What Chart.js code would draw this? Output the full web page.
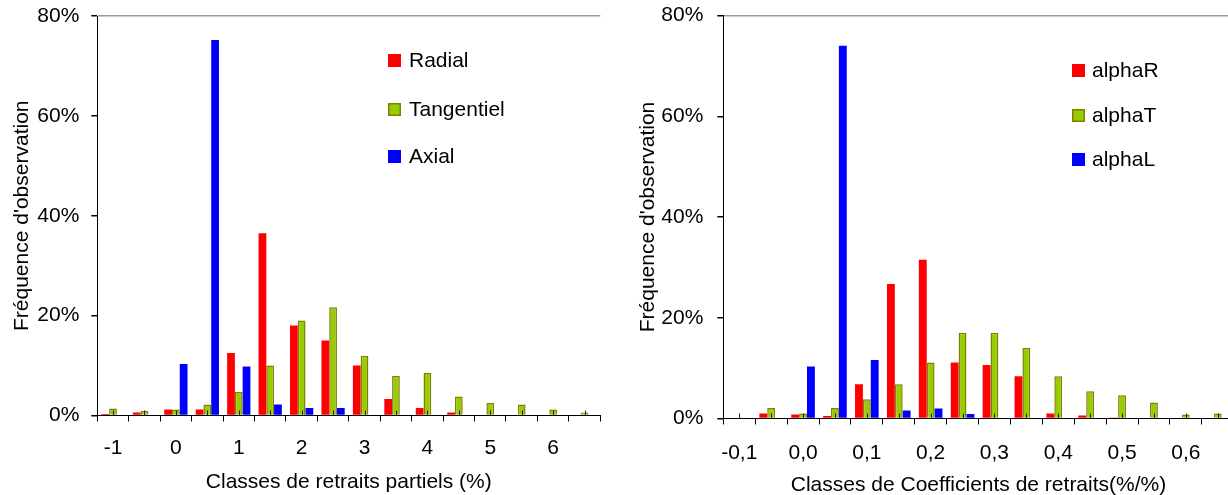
<!DOCTYPE html>
<html><head><meta charset="utf-8">
<script src="https://cdn.jsdelivr.net/npm/chart.js@4/dist/chart.umd.min.js"></script>
<style>
html,body{margin:0;padding:0;background:#fff;overflow:hidden;width:1228px;height:495px;position:relative;}
#w1{position:absolute;left:0;top:0;width:612px;height:495px;}
#w2{position:absolute;left:612px;top:0;width:628px;height:500px;}
</style></head><body>
<div id="w1"><canvas id="c1" width="612" height="495"></canvas></div>
<div id="w2"><canvas id="c2" width="628" height="500"></canvas></div>
<script>
// ---- data: left chart ----
const leftCategories = ['-1','-0,5','0','0,5','1','1,5','2','2,5','3','3,5','4','4,5','5','5,5','6','6,5'];
const radial     = [0.3, 0.6, 1.2, 1.2, 12.5, 36.5, 18, 15, 10, 3.3, 1.5, 0.6, 0, 0, 0, 0];
const tangentiel = [1.4, 0.9, 1.2, 2.2, 4.7, 10, 19, 21.7, 11.9, 7.9, 8.5, 3.8, 2.5, 2.2, 1.2, 0.6];
const axial      = [0, 0, 10.3, 75.2, 9.8, 2.2, 1.5, 1.5, 0, 0, 0, 0, 0, 0, 0, 0];

// ---- data: right chart ----
const rightCategories = ['-0,1','-0,05','0,0','0,05','0,1','0,15','0,2','0,25','0,3','0,35','0,4','0,45','0,5','0,55','0,6','0,65'];
const alphaR = [0, 1, 0.8, 0.5, 6.8, 26.7, 31.5, 11.1, 10.6, 8.4, 1, 0.6, 0.2, 0, 0, 0];
const alphaT = [0, 2.1, 1, 2.1, 3.8, 6.8, 11.1, 17, 17, 14, 8.4, 5.4, 4.6, 3.2, 0.8, 1];
const alphaL = [0, 0, 10.3, 74, 11.6, 1.6, 2, 0.9, 0, 0, 0, 0, 0, 0, 0, 0];

const yTicks = [0, 20, 40, 60, 80];
const yTitle = "Fréquence d'observation";

const FONT = '"Liberation Sans", Arial, sans-serif';
const FS = 21;
const RED = '#FF0000', GREEN = '#99CC00', OLIVE = '#808000', BLUE = '#0000FF';

const insideLegend = {
  id: 'insideLegend',
  afterDraw(chart, args, o) {
    const ctx = chart.ctx;
    ctx.save();
    ctx.font = FS + 'px ' + FONT;
    ctx.textBaseline = 'middle';
    ctx.textAlign = 'left';
    chart.data.datasets.forEach((ds, i) => {
      const x = o.x, y = o.ys[i];
      ctx.fillStyle = ds.backgroundColor;
      ctx.fillRect(x, Math.round(y - 6.5), 13, 13);
      if (ds.legendBorder) {
        ctx.strokeStyle = ds.legendBorder; ctx.lineWidth = 1.5;
        ctx.strokeRect(x + 0.75, Math.round(y - 6.5) + 0.75, 11.5, 11.5);
      }
      ctx.fillStyle = '#000';
      ctx.fillText(ds.label, x + o.gap, y + 1);
    });
    ctx.restore();
  }
};

const innerMarks = {
  id: 'innerMarks',
  afterDatasetsDraw(chart) {
    const xs = chart.scales.x, b = chart.chartArea.bottom, ctx = chart.ctx;
    ctx.save();
    ctx.strokeStyle = '#222'; ctx.lineWidth = 1;
    chart.data.labels.forEach((l, i) => {
      const x = Math.round(xs.getPixelForValue(i)) + 0.5;
      ctx.beginPath(); ctx.moveTo(x, b); ctx.lineTo(x, b - 5); ctx.stroke();
    });
    ctx.restore();
  }
};

function makeChart(id, cats, series, names, xTitle, L) {
  const font = { family: FONT, size: FS };
  const colors = [RED, GREEN, BLUE];
  new Chart(document.getElementById(id), {
    type: 'bar',
    data: {
      labels: cats,
      datasets: series.map((s, i) => ({
        label: names[i],
        data: s,
        backgroundColor: colors[i],
        borderColor: i === 1 ? OLIVE : colors[i],
        borderWidth: i === 1 ? (c => (c.raw > 0 ? 1.5 : 0)) : 0,
        borderSkipped: 'bottom',
        legendBorder: i === 1 ? OLIVE : null,
        categoryPercentage: 0.74,
        barPercentage: 1
      }))
    },
    options: {
      responsive: false,
      animation: false,
      layout: { padding: { left: 0, right: L.padRight, top: L.padTop, bottom: L.padBottom } },
      plugins: {
        legend: { display: false },
        tooltip: { enabled: false },
        insideLegend: L.legend
      },
      scales: {
        x: {
          type: 'category',
          grid: { display: true, drawOnChartArea: false, drawTicks: true, tickLength: 6, color: '#000', offset: true },
          border: { display: true, color: '#000', width: 1 },
          ticks: {
            autoSkip: false, maxRotation: 0, minRotation: 0, padding: L.xTickPad, color: '#000', font,
            callback: (v, i) => (i % 2 === 0 ? cats[i] : '')
          },
          title: { display: true, text: xTitle, color: '#000', font, padding: { top: 0, bottom: L.xTitlePad } },
          afterFit: s => { s.height = L.xHeight; s.paddingLeft = 0; s.paddingRight = 0; }
        },
        y: {
          min: 0, max: 80,
          afterBuildTicks: s => { s.ticks = yTicks.map(v => ({ value: v })); },
          grid: {
            drawTicks: true, tickLength: 6, tickColor: '#000', lineWidth: 1.5,
            color: c => (c.tick && c.tick.value === 80 ? '#9a9a9a' : 'rgba(0,0,0,0)')
          },
          border: { display: true, color: '#000', width: 1 },
          ticks: { padding: L.yTickPad, color: '#000', font, callback: v => v + '%' },
          title: { display: true, text: yTitle, color: '#000', font, padding: { top: L.yTitlePad, bottom: 0 } },
          afterFit: s => { s.width = L.yWidth; s.paddingTop = 0; s.paddingBottom = 0; }
        }
      }
    },
    plugins: [insideLegend, innerMarks]
  });
}

makeChart('c1', leftCategories, [radial, tangentiel, axial], ['Radial', 'Tangentiel', 'Axial'],
  'Classes de retraits partiels (%)',
  { padRight: 11.7, padTop: 16, padBottom: 0, xHeight: 79.5, xTickPad: 14.5, xTitlePad: 0.4,
    yWidth: 97.3, yTickPad: 12, yTitlePad: 9.5,
    legend: { x: 388, ys: [60, 109, 156], gap: 21 } });

makeChart('c2', rightCategories, [alphaR, alphaT, alphaL], ['alphaR', 'alphaT', 'alphaL'],
  'Classes de Coefficients de retraits(%/%)',
  { padRight: 6.3, padTop: 15.5, padBottom: 0, xHeight: 81.5, xTickPad: 16.5, xTitlePad: 2.4,
    yWidth: 111.3, yTickPad: 14, yTitlePad: 23.5,
    legend: { x: 460, ys: [70, 115, 159], gap: 20 } });
</script>
</body></html>
